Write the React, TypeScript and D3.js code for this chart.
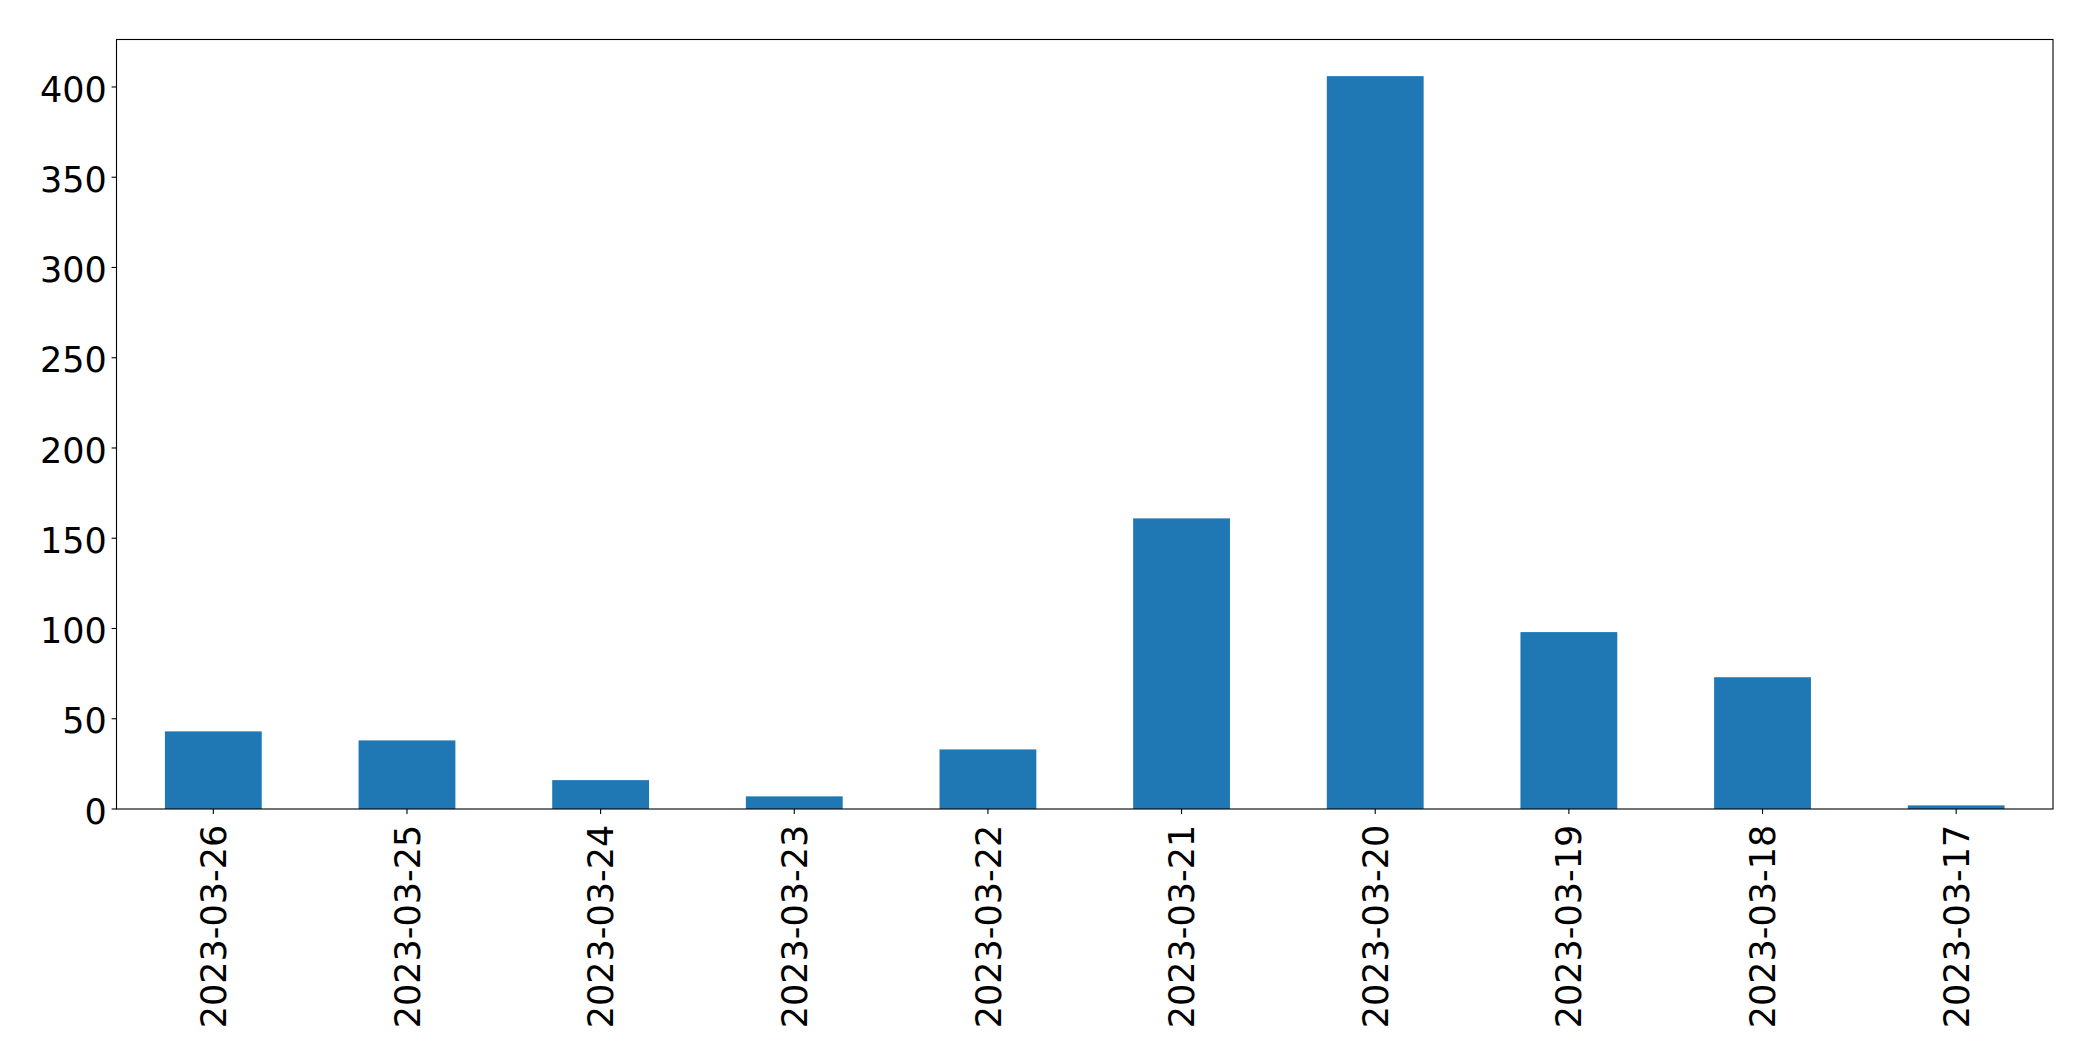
import * as d3 from "d3";
import { useEffect } from "react";

// values
const dates = [
  "2023-03-26",
  "2023-03-25",
  "2023-03-24",
  "2023-03-23",
  "2023-03-22",
  "2023-03-21",
  "2023-03-20",
  "2023-03-19",
  "2023-03-18",
  "2023-03-17",
];
const counts = [43, 38, 16, 7, 33, 161, 406, 98, 73, 2];
const yTicks = [0, 50, 100, 150, 200, 250, 300, 350, 400];

const width = 2093;
const height = 1061;
const margin = { top: 39.5, right: 40, bottom: 252, left: 116.5 };
const font = "'DejaVu Sans', sans-serif";
const fontSize = 35;
const tickLen = 4.9;
const tickPad = 4.9;

export default function App() {
  useEffect(() => {
    document.body.style.margin = "0";
  }, []);

  const x = d3
    .scaleBand<string>()
    .domain(dates)
    .range([margin.left, width - margin.right])
    .paddingInner(0.5)
    .paddingOuter(0.25);

  const yMax = (d3.max(counts) ?? 0) * 1.05;
  const y = d3
    .scaleLinear()
    .domain([0, yMax])
    .range([height - margin.bottom, margin.top]);

  const x0 = margin.left;
  const x1 = width - margin.right;
  const y0 = height - margin.bottom;
  const y1 = margin.top;

  return (
    <svg
      width={width}
      height={height}
      viewBox={`0 0 ${width} ${height}`}
      style={{ display: "block", background: "#fff" }}
      fontFamily={font}
    >
      {dates.map((d, i) => (
        <rect
          key={d}
          x={x(d)}
          y={y(counts[i])}
          width={x.bandwidth()}
          height={y(0) - y(counts[i])}
          fill="#1f77b4"
        />
      ))}

      {/* y axis ticks */}
      {yTicks.map((t) => (
        <g key={t} transform={`translate(${x0},${y(t)})`}>
          <line x1={-tickLen} x2={0} stroke="#000" strokeWidth={1.1} />
          <text
            x={-tickLen - tickPad}
            dy="0.42em"
            textAnchor="end"
            fontSize={fontSize}
            fill="#000"
          >
            {t}
          </text>
        </g>
      ))}

      {/* x axis ticks */}
      {dates.map((d) => {
        const cx = (x(d) ?? 0) + x.bandwidth() / 2;
        return (
          <g key={d} transform={`translate(${cx},${y0})`}>
            <line y1={0} y2={tickLen} stroke="#000" strokeWidth={1.1} />
            <text
              transform={`translate(0,${tickLen + tickPad + 6}) rotate(-90)`}
              textAnchor="end"
              dy="0.36em"
              fontSize={fontSize}
              fill="#000"
            >
              {d}
            </text>
          </g>
        );
      })}

      {/* axes frame */}
      <rect
        x={x0}
        y={y1}
        width={x1 - x0}
        height={y0 - y1}
        fill="none"
        stroke="#000"
        strokeWidth={1.1}
      />
    </svg>
  );
}
